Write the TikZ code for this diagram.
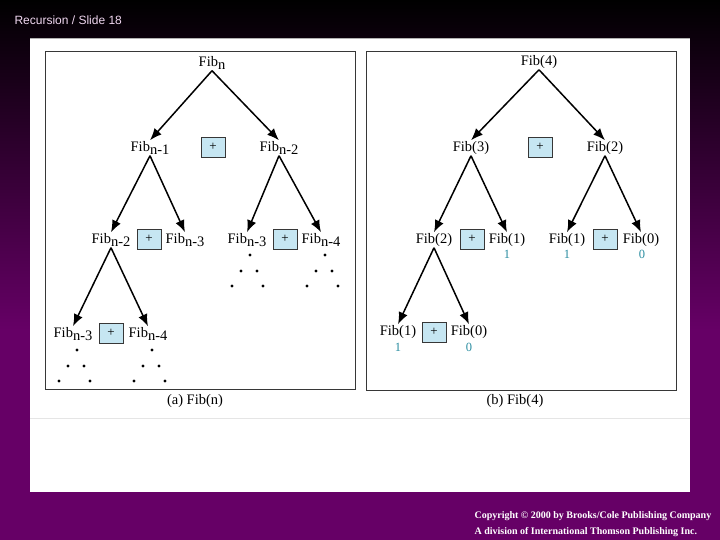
\documentclass[tikz,border=0pt]{standalone}
\usepackage{fontspec}
\setmainfont{Liberation Serif}
\newfontfamily\hdrfont{Liberation Sans}
\usepackage{tikz}
\usepackage{xcolor}
\usetikzlibrary{arrows.meta}

\definecolor{slidepurple}{RGB}{102,0,102}
\definecolor{titlepink}{RGB}{240,215,240}
\definecolor{plusblue}{RGB}{198,230,242}
\definecolor{valteal}{RGB}{40,140,160}
\definecolor{framegray}{RGB}{55,55,55}
\newcommand{\fibsub}[1]{Fib\raisebox{-0.45ex}{#1}}

\tikzset{
  lab/.style={font=\fontsize{14.5}{16}\selectfont,inner sep=1pt},
  plusbox/.style={draw=framegray,line width=0.9pt,fill=plusblue,
    minimum width=24pt,minimum height=20pt,inner sep=0pt,
    font=\fontsize{13}{14}\selectfont},
  val/.style={text=valteal,font=\fontsize{12.5}{14}\selectfont,inner sep=0pt},
  call/.style={->,line width=1.5pt},
}

\begin{document}
\begin{tikzpicture}[x=1pt,y=-1pt,>={Latex[length=12pt,width=9.5pt]}]
  \useasboundingbox (0,0) rectangle (720,540);
  \fill[slidepurple] (0,0) rectangle (720,540);
  \shade[top color=black,bottom color=slidepurple] (0,0) rectangle (720,330);
  \node[anchor=west,text=titlepink,font=\hdrfont\fontsize{12}{14}\selectfont]
    (title) at (11,20) {Recursion / Slide 18};

  % white panel with the two frames
  \fill[white] (30,38) rectangle (690,492);
  \draw[gray!60] (30,38.5) -- (690,38.5);
  \draw[gray!20] (30,418) -- (690,418);
  \draw[framegray] (45,51) rectangle (355,389);
  \draw[framegray] (366,51) rectangle (676,390);

  % (a) Fib(n)
  \node[lab] (fibn) at (212,63) {\fibsub{n}};
  \node[lab] (fibna) at (150,148) {\fibsub{n-1}};
  \node[plusbox] (plusa) at (213,147) {+};
  \node[lab] (fibnb) at (279,148) {\fibsub{n-2}};
  \node[lab] (fibnaa) at (111,240) {\fibsub{n-2}};
  \node[plusbox] (plusaa) at (149,239) {+};
  \node[lab] (fibnab) at (185,240) {\fibsub{n-3}};
  \node[lab] (fibnba) at (247,240) {\fibsub{n-3}};
  \node[plusbox] (plusba) at (285,239) {+};
  \node[lab] (fibnbb) at (321,240) {\fibsub{n-4}};
  \node[lab] (fibnaaa) at (73,334) {\fibsub{n-3}};
  \node[plusbox] (plusaaa) at (111,333) {+};
  \node[lab] (fibnaab) at (148,334) {\fibsub{n-4}};
  \draw[call] (fibn.south) -- (fibna.north);
  \draw[call] (fibn.south) -- (fibnb.north);
  \draw[call] (fibna.south) -- (fibnaa.north);
  \draw[call] (fibna.south) -- (fibnab.north);
  \draw[call] (fibnb.south) -- (fibnba.north);
  \draw[call] (fibnb.south) -- (fibnbb.north);
  \draw[call] (fibnaa.south) -- (fibnaaa.north);
  \draw[call] (fibnaa.south) -- (fibnaab.north);
  \foreach \bx/\by in {250/255,325/255,77/350,152/350}
    \foreach \dx/\dy in {0/0,-9/16,7/16,-18/31,13/31}
      \fill (\bx+\dx,\by+\dy) circle (1.6);
  \node[lab] (capa) at (195,401) {(a) Fib(n)};

  % (b) Fib(4)
  \node[lab] (fibfour) at (539,62) {Fib(4)};
  \node[lab] (fibthree) at (471,148) {Fib(3)};
  \node[plusbox] (plusb) at (540,147) {+};
  \node[lab] (fibtwo) at (605,148) {Fib(2)};
  \node[lab] (fibtwoa) at (434,240) {Fib(2)};
  \node[plusbox] (plusbb) at (472,239) {+};
  \node[lab] (fibonea) at (507,240) {Fib(1)};
  \node[lab] (fiboneb) at (567,240) {Fib(1)};
  \node[plusbox] (plusbc) at (605,239) {+};
  \node[lab] (fibzeroa) at (641,240) {Fib(0)};
  \node[lab] (fibonec) at (398,332) {Fib(1)};
  \node[plusbox] (plusbd) at (434,332) {+};
  \node[lab] (fibzerob) at (469,332) {Fib(0)};
  \node[val] (vonea) at (507,254) {1};
  \node[val] (voneb) at (567,254) {1};
  \node[val] (vzeroa) at (642,254) {0};
  \node[val] (vonec) at (398,347) {1};
  \node[val] (vzerob) at (469,347) {0};
  \draw[call] (fibfour.south) -- (fibthree.north);
  \draw[call] (fibfour.south) -- (fibtwo.north);
  \draw[call] (fibthree.south) -- (fibtwoa.north);
  \draw[call] (fibthree.south) -- (fibonea.north);
  \draw[call] (fibtwo.south) -- (fiboneb.north);
  \draw[call] (fibtwo.south) -- (fibzeroa.north);
  \draw[call] (fibtwoa.south) -- (fibonec.north);
  \draw[call] (fibtwoa.south) -- (fibzerob.north);
  \node[lab] (capb) at (515,401) {(b) Fib(4)};

  \node[anchor=north west,align=left,text=white,
    font=\fontsize{10}{16}\selectfont\bfseries] (copy) at (471,508)
    {Copyright \copyright{} 2000 by Brooks/Cole Publishing Company\\
     A division of International Thomson Publishing Inc.};
\end{tikzpicture}
\end{document}
